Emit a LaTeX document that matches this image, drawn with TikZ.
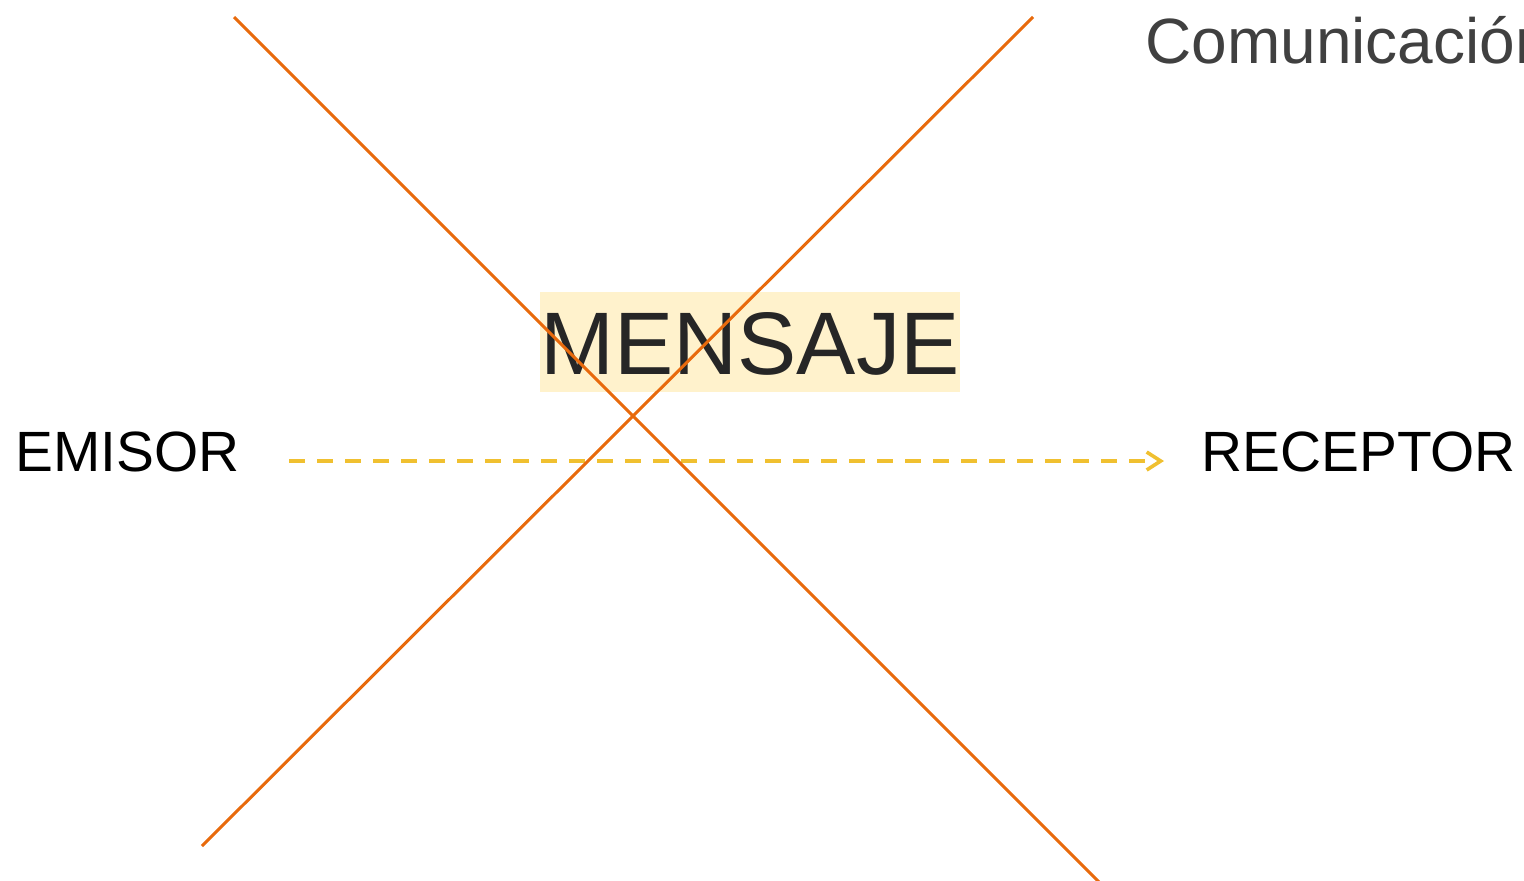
\documentclass[tikz,border=0pt]{standalone}
\usepackage{fontspec}
\setmainfont{Liberation Sans}
\usetikzlibrary{arrows.meta,positioning}

\definecolor{cruz}{RGB}{232,106,12}
\definecolor{flecha}{RGB}{240,192,48}
\definecolor{fondo}{RGB}{255,242,204}
\definecolor{gristitulo}{RGB}{64,64,64}
\definecolor{gristexto}{RGB}{38,38,38}

\tikzset{
	etiqueta/.style={inner sep=0pt, anchor=base west, font=\fontsize{28.4pt}{30pt}\selectfont},
}

\begin{document}
\begin{tikzpicture}[x=0.5pt,y=-0.5pt]
			\useasboundingbox (0,0) rectangle (1524,880);
			\clip (0,0) rectangle (1524,880);
			\node[anchor=base west, inner sep=0pt, text=gristitulo, font=\fontsize{32pt}{35pt}\selectfont] (titulo) at (1145,63) {Comunicación};
			\node[fill=fondo, inner sep=0pt, minimum width=210pt, minimum height=50pt, text height=32pt, text depth=0pt, text=gristexto, font=\fontsize{44.4pt}{48pt}\selectfont] (mensaje) at (750,342) {MENSAJE};
			\node[etiqueta] (emisor) at (15,471) {EMISOR};
			\node[etiqueta] (receptor) at (1201,471) {RECEPTOR};
			\coordinate (salida) at (289,461);
			\coordinate (llegada) at (1164,461);
			\draw[flecha, line width=1.8pt, dash pattern=on 8pt off 6pt, -{Straight Barb[length=7pt,width=9pt]}] (salida) -- (llegada);
			\foreach \xa/\ya/\xb/\yb in {234/17/1100/883,1033/17/202/846}
				\draw[cruz, line width=1.5pt] (\xa,\ya) -- (\xb,\yb);
		\end{tikzpicture}
\end{document}
